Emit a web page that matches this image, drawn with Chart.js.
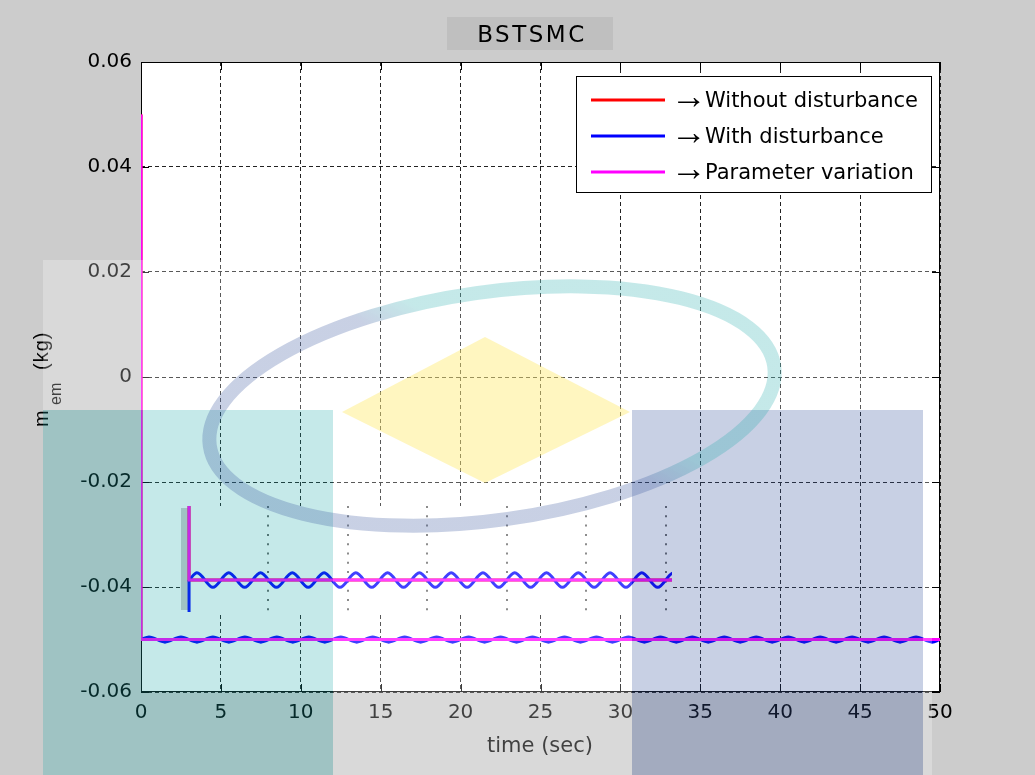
<!DOCTYPE html>
<html>
<head>
<meta charset="utf-8">
<script src="https://cdn.jsdelivr.net/npm/chart.js@4"></script>
<style>
  html, body { margin: 0; padding: 0; background: #cccccc; }
  #wrap { position: relative; width: 1035px; height: 775px; }
  #wrap canvas { position: absolute; }
</style>
</head>
<body>
<div id="wrap">
  <canvas id="mainChart" width="1035" height="775" style="left:0;top:0"></canvas>
  <canvas id="insetChart" width="492" height="106" style="left:180px;top:506px"></canvas>
  <canvas id="overlay" width="1035" height="775" style="left:0;top:0;pointer-events:none"></canvas>
</div>
<script>
const chartTitle = 'BSTSMC';
const seriesLabels = ['Without disturbance', 'With disturbance', 'Parameter variation'];
const seriesColors = ['#ff0000', '#0000ff', '#ff00ff'];

// without disturbance (sits under the magenta trace)
const tRed = [0, 0, 50];
const redVals = [0.05, -0.05, -0.05];

// with disturbance: chattering round -0.05
const tBlue = [0,
  0.5, 1.5, 2.5, 3.5, 4.5, 5.5, 6.5, 7.5, 8.5, 9.5,
  10.5, 11.5, 12.5, 13.5, 14.5, 15.5, 16.5, 17.5, 18.5, 19.5,
  20.5, 21.5, 22.5, 23.5, 24.5, 25.5, 26.5, 27.5, 28.5, 29.5,
  30.5, 31.5, 32.5, 33.5, 34.5, 35.5, 36.5, 37.5, 38.5, 39.5,
  40.5, 41.5, 42.5, 43.5, 44.5, 45.5, 46.5, 47.5, 48.5, 49.5,
  50];
const blueVals = [-0.05,
  -0.0495, -0.0505, -0.0495, -0.0505, -0.0495, -0.0505, -0.0495, -0.0505, -0.0495, -0.0505,
  -0.0495, -0.0505, -0.0495, -0.0505, -0.0495, -0.0505, -0.0495, -0.0505, -0.0495, -0.0505,
  -0.0495, -0.0505, -0.0495, -0.0505, -0.0495, -0.0505, -0.0495, -0.0505, -0.0495, -0.0505,
  -0.0495, -0.0505, -0.0495, -0.0505, -0.0495, -0.0505, -0.0495, -0.0505, -0.0495, -0.0505,
  -0.0495, -0.0505, -0.0495, -0.0505, -0.0495, -0.0505, -0.0495, -0.0505, -0.0495, -0.0505,
  -0.05];

// parameter variation
const tMag = [0, 0, 50];
const magVals = [0.05, -0.05, -0.05];

// blue start seen only in the zoom box
const tBlueStart = [0, 0];
const blueStartVals = [-0.06, -0.05];

const xTicks = [0, 5, 10, 15, 20, 25, 30, 35, 40, 45, 50];
const yTicks = [-0.06, -0.04, -0.02, 0, 0.02, 0.04, 0.06];
const yTickLabels = ['-0.06', '-0.04', '-0.02', '0', '0.02', '0.04', '0.06'];
const insetXTicks = [5, 10, 15, 20, 25, 30];

const FONT = '"DejaVu Sans", Verdana, sans-serif';
const FONT2 = '"Liberation Sans", Arial, sans-serif';
Chart.defaults.font.family = FONT;
Chart.defaults.color = '#000';

function pts(t, v) {
  return t.map(function (x, i) { return { x: x, y: v[i] }; });
}

function lineSet(i, t, v, order, extra) {
  return Object.assign({
    label: seriesLabels[i],
    data: pts(t, v),
    borderColor: seriesColors[i],
    backgroundColor: seriesColors[i],
    borderWidth: 3,
    pointRadius: 0,
    fill: false,
    order: order
  }, extra || {});
}

const bgPlugin = {
  id: 'bg',
  beforeDraw: function (chart) {
    const c = chart.ctx, a = chart.chartArea;
    c.save();
    c.fillStyle = '#cccccc';
    c.fillRect(0, 0, chart.width, chart.height);
    c.fillStyle = '#ffffff';
    c.fillRect(a.left, a.top, a.right - a.left, a.bottom - a.top);
    c.restore();
  }
};

// box round the axes and the inward ticks
const framePlugin = {
  id: 'frame',
  beforeDatasetsDraw: function (chart) {
    const c = chart.ctx, a = chart.chartArea;
    const xs = chart.scales.x, ys = chart.scales.y;
    c.save();
    c.strokeStyle = '#000';
    c.lineWidth = 1;
    c.setLineDash([]);
    c.strokeRect(a.left + 0.5, a.top + 0.5, a.right - a.left - 1, a.bottom - a.top - 1);
    c.beginPath();
    xTicks.forEach(function (v) {
      const px = Math.round(xs.getPixelForValue(v)) + 0.5;
      c.moveTo(px, a.bottom); c.lineTo(px, a.bottom - 8);
      c.moveTo(px, a.top); c.lineTo(px, a.top + 8);
    });
    yTicks.forEach(function (v) {
      const py = Math.round(ys.getPixelForValue(v)) + 0.5;
      c.moveTo(a.left, py); c.lineTo(a.left + 8, py);
      c.moveTo(a.right, py); c.lineTo(a.right - 8, py);
    });
    c.stroke();
    c.restore();
  }
};

const textPlugin = {
  id: 'texts',
  afterDraw: function (chart) {
    const c = chart.ctx;
    c.save();
    // title
    c.fillStyle = '#bfbfbf';
    c.fillRect(447, 17, 166, 33);
    c.fillStyle = '#000';
    c.font = '23px ' + FONT;
    c.letterSpacing = '2.5px';
    c.textAlign = 'center';
    c.textBaseline = 'alphabetic';
    c.fillText(chartTitle, 532, 42);
    c.letterSpacing = '0px';

    // x axis title
    c.font = '21px ' + FONT;
    c.fillText('time (sec)', 540, 752);

    // y axis title, m with subscript em
    c.save();
    c.translate(48, 427);
    c.rotate(-Math.PI / 2);
    c.textAlign = 'left';
    c.font = '20px ' + FONT2;
    c.fillText('m', 0, 0);
    c.font = '16px ' + FONT2;
    c.fillText('em', 22, 13);
    c.font = '20px ' + FONT2;
    c.letterSpacing = '1px';
    c.fillText('(kg)', 57, 0);
    c.letterSpacing = '0px';
    c.restore();

    // legend
    c.fillStyle = '#fff';
    c.fillRect(576, 76, 355, 116);
    c.strokeStyle = '#000';
    c.lineWidth = 1;
    c.strokeRect(576.5, 76.5, 355, 116);
    c.textAlign = 'left';
    chart.data.datasets.forEach(function (ds, i) {
      const y = 100 + i * 36;
      c.strokeStyle = ds.borderColor;
      c.lineWidth = 3;
      c.beginPath();
      c.moveTo(591, y); c.lineTo(665, y);
      c.stroke();
      c.fillStyle = '#000';
      c.font = '36px ' + FONT2;
      c.fillText('\u2192', 671, y + 8);
      c.font = '21px ' + FONT;
      c.fillText(ds.label, 705, y + 7);
    });
    c.restore();
  }
};

new Chart(document.getElementById('mainChart'), {
  type: 'line',
  data: {
    datasets: [
      lineSet(0, tRed, redVals, 2),
      lineSet(1, tBlue, blueVals, 1, { cubicInterpolationMode: 'monotone' }),
      lineSet(2, tMag, magVals, 0)
    ]
  },
  options: {
    responsive: false,
    animation: false,
    events: [],
    layout: { padding: { left: 0, top: 62, right: 95, bottom: 0 } },
    plugins: { legend: { display: false }, tooltip: { enabled: false }, title: { display: false } },
    scales: {
      x: {
        type: 'linear', min: 0, max: 50,
        afterFit: function (s) { s.height = 83; },
        afterBuildTicks: function (s) { s.ticks = xTicks.map(function (v) { return { value: v }; }); },
        grid: { color: '#222', lineWidth: 1, drawTicks: false },
        border: { display: false, dash: [4, 3] },
        ticks: { font: { size: 20 }, padding: 9, maxRotation: 0, autoSkip: false,
                 callback: function (v) { return String(v); } }
      },
      y: {
        type: 'linear', min: -0.06, max: 0.06,
        afterFit: function (s) { s.width = 141; },
        afterBuildTicks: function (s) { s.ticks = yTicks.map(function (v) { return { value: v }; }); },
        grid: { color: '#222', lineWidth: 1, drawTicks: false },
        border: { display: false, dash: [4, 3] },
        ticks: { font: { size: 20 }, padding: 9, autoSkip: false,
                 callback: function (v, i) { return yTickLabels[i]; } }
      }
    }
  },
  plugins: [bgPlugin, framePlugin, textPlugin]
});

// zoom box
const insetBg = {
  id: 'insetBg',
  beforeDraw: function (chart) {
    const c = chart.ctx;
    c.save();
    c.fillStyle = '#ffffff';
    c.fillRect(0, 0, chart.width, chart.height);
    c.fillStyle = '#cccccc';
    c.fillRect(1, 2, 7, 102);
    c.restore();
  }
};

new Chart(document.getElementById('insetChart'), {
  type: 'line',
  data: {
    datasets: [
      lineSet(0, tRed, redVals, 3),
      lineSet(1, tBlueStart, blueStartVals, 2),
      lineSet(1, tBlue, blueVals, 1, { cubicInterpolationMode: 'monotone' }),
      lineSet(2, tMag, magVals, 0)
    ]
  },
  options: {
    responsive: false,
    animation: false,
    events: [],
    layout: { padding: 0 },
    plugins: { legend: { display: false }, tooltip: { enabled: false } },
    scales: {
      x: {
        type: 'linear', min: -0.57, max: 30.4,
        afterFit: function (s) { s.height = 0; },
        afterBuildTicks: function (s) { s.ticks = insetXTicks.map(function (v) { return { value: v }; }); },
        ticks: { display: false },
        grid: { color: '#666', lineWidth: 2, drawTicks: false },
        border: { display: false, dash: [2, 7.3] }
      },
      y: { type: 'linear', min: -0.0522, max: -0.0449, display: false }
    }
  },
  plugins: [insetBg]
});

// pale logo watermark lying over the whole figure
const ov = document.getElementById('overlay').getContext('2d');
ov.fillStyle = 'rgba(255,255,255,0.25)';
ov.fillRect(43, 260, 889, 150);
ov.fillRect(333, 410, 299, 365);
ov.fillRect(923, 410, 9, 365);
ov.fillStyle = 'rgba(23,167,167,0.25)';
ov.fillRect(43, 410, 290, 365);
ov.fillStyle = 'rgba(58,87,158,0.28)';
ov.fillRect(632, 410, 291, 365);
ov.fillStyle = 'rgba(255,232,97,0.4)';
ov.beginPath();
ov.moveTo(485, 337); ov.lineTo(630, 412); ov.lineTo(485, 483); ov.lineTo(342, 412);
ov.closePath();
ov.fill();
const ring = ov.createLinearGradient(440, 460, 540, 280);
ring.addColorStop(0.4, 'rgba(58,87,158,0.28)');
ring.addColorStop(0.6, 'rgba(23,167,167,0.25)');
ov.strokeStyle = ring;
ov.lineWidth = 14;
ov.beginPath();
ov.ellipse(492, 406, 285, 114, -0.14, 0, Math.PI * 2);
ov.stroke();
</script>
</body>
</html>
